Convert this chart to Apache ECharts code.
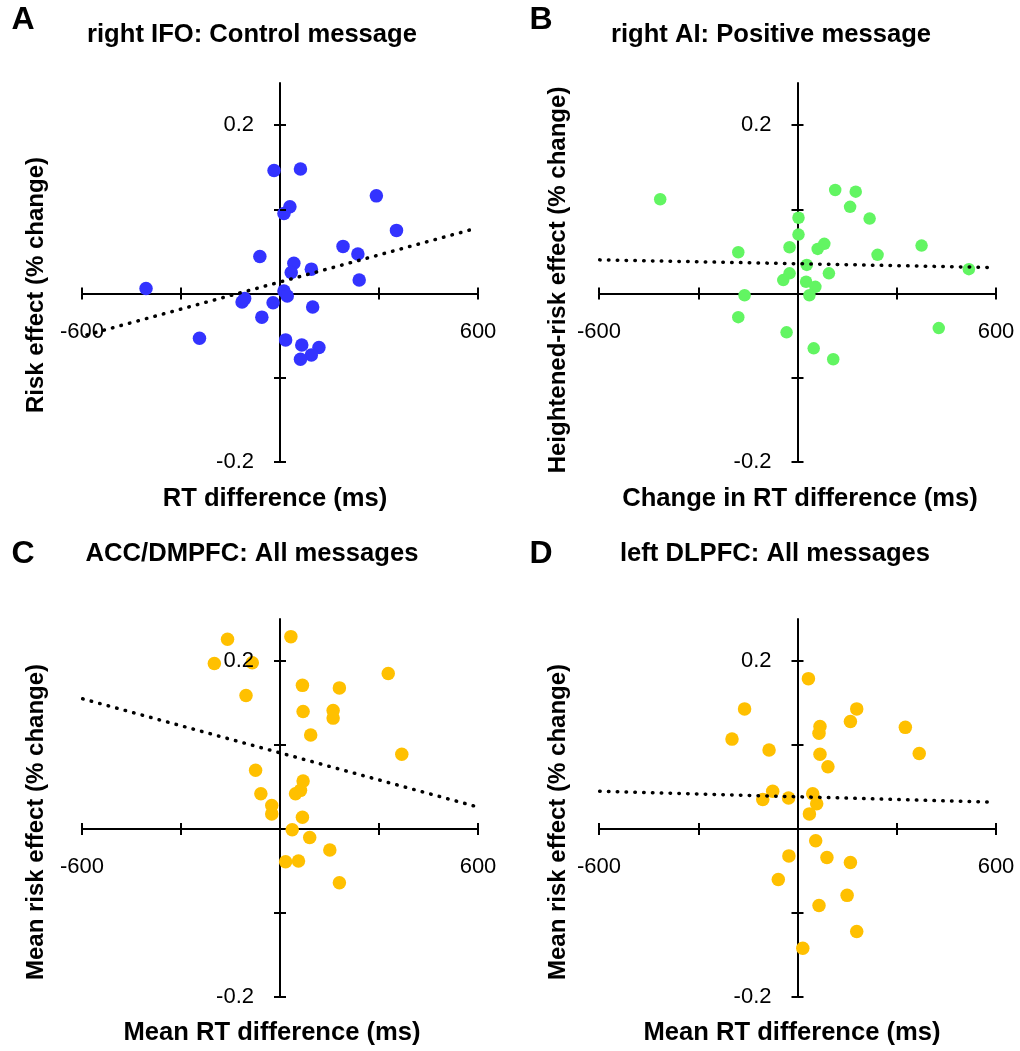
<!DOCTYPE html>
<html>
<head>
<meta charset="utf-8">
<script src="https://cdn.jsdelivr.net/npm/echarts@6/dist/echarts.min.js"></script>
<style>
html, body { margin: 0; padding: 0; background: #fff; }
#chart { width: 1020px; height: 1051px; }
</style>
</head>
<body>
<div id="chart"></div>
<script>
// values: [RT difference (ms), risk effect]
const pointsA = [[-18, 0.146], [62, 0.148], [292, 0.116], [30, 0.103], [12, 0.095], [353, 0.075],
    [191, 0.056], [236, 0.047], [-61, 0.044], [42, 0.036], [95, 0.029], [34, 0.025], [240, 0.016],
    [-406, 0.006], [12, 0.003], [22, -0.003], [-115, -0.010], [-107, -0.006], [-21, -0.011],
    [99, -0.016], [-55, -0.028], [-244, -0.053], [17, -0.055], [66, -0.061], [118, -0.064],
    [95, -0.073], [62, -0.078]];
const pointsB = [[-415, 0.112], [114, 0.123], [176, 0.121], [159, 0.103], [218, 0.089], [3, 0.090],
    [3, 0.070], [-24, 0.055], [61, 0.053], [81, 0.059], [-179, 0.049], [375, 0.057], [242, 0.046],
    [28, 0.034], [518, 0.029], [95, 0.024], [-24, 0.024], [-43, 0.016], [26, 0.014], [54, 0.008],
    [36, -0.002], [-160, -0.002], [-179, -0.028], [-33, -0.046], [427, -0.041], [49, -0.065],
    [108, -0.078]];
const pointsC = [[-159, 0.226], [33, 0.229], [-199, 0.197], [-84, 0.198], [328, 0.185], [68, 0.171],
    [180, 0.168], [-103, 0.159], [70, 0.140], [161, 0.141], [161, 0.132], [93, 0.112], [369, 0.089],
    [-74, 0.070], [70, 0.057], [-58, 0.042], [47, 0.042], [62, 0.046], [-25, 0.028], [-25, 0.018],
    [68, 0.014], [37, -0.001], [90, -0.010], [151, -0.025], [17, -0.039], [56, -0.038], [180, -0.064]];
const pointsD = [[33, 0.179], [-160, 0.143], [179, 0.143], [160, 0.128], [68, 0.122], [65, 0.114],
    [326, 0.121], [-198, 0.107], [-86, 0.094], [368, 0.090], [68, 0.089], [92, 0.074], [-75, 0.045],
    [-105, 0.035], [-27, 0.037], [46, 0.042], [58, 0.030], [36, 0.018], [55, -0.014], [-26, -0.032],
    [89, -0.034], [160, -0.040], [-58, -0.060], [150, -0.079], [65, -0.091], [179, -0.122], [16, -0.142]];

// end points of the dotted fit lines
const trendA = [[-585, -0.049], [590, 0.077]];
const trendB = [[-598, 0.040], [580, 0.031]];
const trendC = [[-598, 0.155], [592, 0.027]];
const trendD = [[-598, 0.045], [580, 0.032]];

const xTicks = [-600, -300, 300, 600];
const xLabels = [-600, 600];
const yTicks = [-0.2, -0.1, 0.1, 0.2];
const yLabels = [-0.2, 0.2];

const X_MIN = -600, X_MAX = 600, Y_MIN = -0.2, Y_MAX = 0.25;
const FONT = '"Liberation Sans", Arial, sans-serif';

const panels = [
    { letter: 'A', title: 'right IFO: Control message', xName: 'RT difference (ms)',
      yName: 'Risk effect (% change)', color: '#3333ff', size: 13.5, points: pointsA, trend: trendA,
      grid: { left: 82, top: 83, width: 396, height: 379 },
      letterPos: [23, 20], titlePos: [252, 35], xNamePos: [275, 499], yNamePos: [36, 285] },
    { letter: 'B', title: 'right AI: Positive message', xName: 'Change in RT difference (ms)',
      yName: 'Heightened-risk effect (% change)', color: '#62f562', size: 12.5, points: pointsB, trend: trendB,
      grid: { left: 599, top: 83, width: 397, height: 379 },
      letterPos: [541, 20], titlePos: [771, 35], xNamePos: [800, 499], yNamePos: [558, 280] },
    { letter: 'C', title: 'ACC/DMPFC: All messages', xName: 'Mean RT difference (ms)',
      yName: 'Mean risk effect (% change)', color: '#ffc000', size: 13.5, points: pointsC, trend: trendC,
      grid: { left: 82, top: 619, width: 396, height: 378 },
      letterPos: [23, 554], titlePos: [252, 554], xNamePos: [272, 1033], yNamePos: [36, 822] },
    { letter: 'D', title: 'left DLPFC: All messages', xName: 'Mean RT difference (ms)',
      yName: 'Mean risk effect (% change)', color: '#ffc000', size: 13.5, points: pointsD, trend: trendD,
      grid: { left: 599, top: 619, width: 397, height: 378 },
      letterPos: [541, 554], titlePos: [775, 554], xNamePos: [792, 1033], yNamePos: [558, 822] }
];

const chart = echarts.init(document.getElementById('chart'));

const grids = [], xAxes = [], yAxes = [], series = [], texts = [];

function label(text, pos, font, rotation) {
    return {
        type: 'text', x: pos[0], y: pos[1], rotation: rotation || 0, silent: true,
        style: { text: text, font: font, fill: '#000',
                 align: 'center', verticalAlign: 'middle',
                 textAlign: 'center', textVerticalAlign: 'middle' }
    };
}

panels.forEach(function (p, i) {
    grids.push(Object.assign({}, p.grid));
    const tickStyle = { color: '#000', width: 2 };
    // twin axes sit on the zero lines through an offset from the grid edge
    const xOffset = -p.grid.height * (0 - Y_MIN) / (Y_MAX - Y_MIN);
    const yOffset = -p.grid.width * (0 - X_MIN) / (X_MAX - X_MIN);

    // main axes: line + outer half of the ticks
    xAxes.push({
        gridIndex: i, type: 'value', position: 'bottom', min: X_MIN, max: X_MAX,
        axisLine: { onZero: true, lineStyle: { color: '#000', width: 2 } },
        axisTick: { show: true, customValues: xTicks, length: 6, lineStyle: tickStyle },
        axisLabel: { show: false }, splitLine: { show: false }
    });
    // twin axes: inner half of the ticks + labels, drawn above the dots
    xAxes.push({
        gridIndex: i, type: 'value', position: 'bottom', offset: xOffset, min: X_MIN, max: X_MAX, z: 5,
        axisLine: { show: false, onZero: false },
        axisTick: { show: true, inside: true, customValues: xTicks, length: 6, lineStyle: tickStyle },
        axisLabel: { customValues: xLabels, margin: 27, fontSize: 22, fontFamily: FONT, color: '#000',
                     formatter: function (v) { return String(v); } },
        splitLine: { show: false }
    });
    yAxes.push({
        gridIndex: i, type: 'value', position: 'left', min: Y_MIN, max: Y_MAX,
        axisLine: { onZero: true, lineStyle: { color: '#000', width: 2 } },
        axisTick: { show: true, customValues: yTicks, length: 6, lineStyle: tickStyle },
        axisLabel: { show: false }, splitLine: { show: false }
    });
    yAxes.push({
        gridIndex: i, type: 'value', position: 'left', offset: yOffset, min: Y_MIN, max: Y_MAX, z: 5,
        axisLine: { show: false, onZero: false },
        axisTick: { show: true, inside: true, customValues: yTicks, length: 6, lineStyle: tickStyle },
        axisLabel: { customValues: yLabels, margin: 26, fontSize: 22, fontFamily: FONT, color: '#000',
                     formatter: function (v) { return v.toFixed(1); } },
        splitLine: { show: false }
    });

    series.push({
        type: 'scatter', xAxisIndex: 2 * i, yAxisIndex: 2 * i, data: p.points,
        symbolSize: p.size, itemStyle: { color: p.color, opacity: 1 }, z: 3
    });
    series.push({
        type: 'line', xAxisIndex: 2 * i, yAxisIndex: 2 * i, data: p.trend,
        symbol: 'none', silent: true, z: 4,
        lineStyle: { color: '#000', width: 3.5, type: [0.5, 8.3], cap: 'round' }
    });

    texts.push(label(p.letter, p.letterPos, 'bold 32px ' + FONT));
    texts.push(label(p.title, p.titlePos, 'bold 25.6px ' + FONT));
    texts.push(label(p.xName, p.xNamePos, 'bold 25.6px ' + FONT));
    texts.push(label(p.yName, p.yNamePos, 'bold 24px ' + FONT, Math.PI / 2));
});

chart.setOption({
    animation: false,
    backgroundColor: '#fff',
    grid: grids,
    xAxis: xAxes,
    yAxis: yAxes,
    series: series,
    graphic: { elements: texts }
});
</script>
</body>
</html>
